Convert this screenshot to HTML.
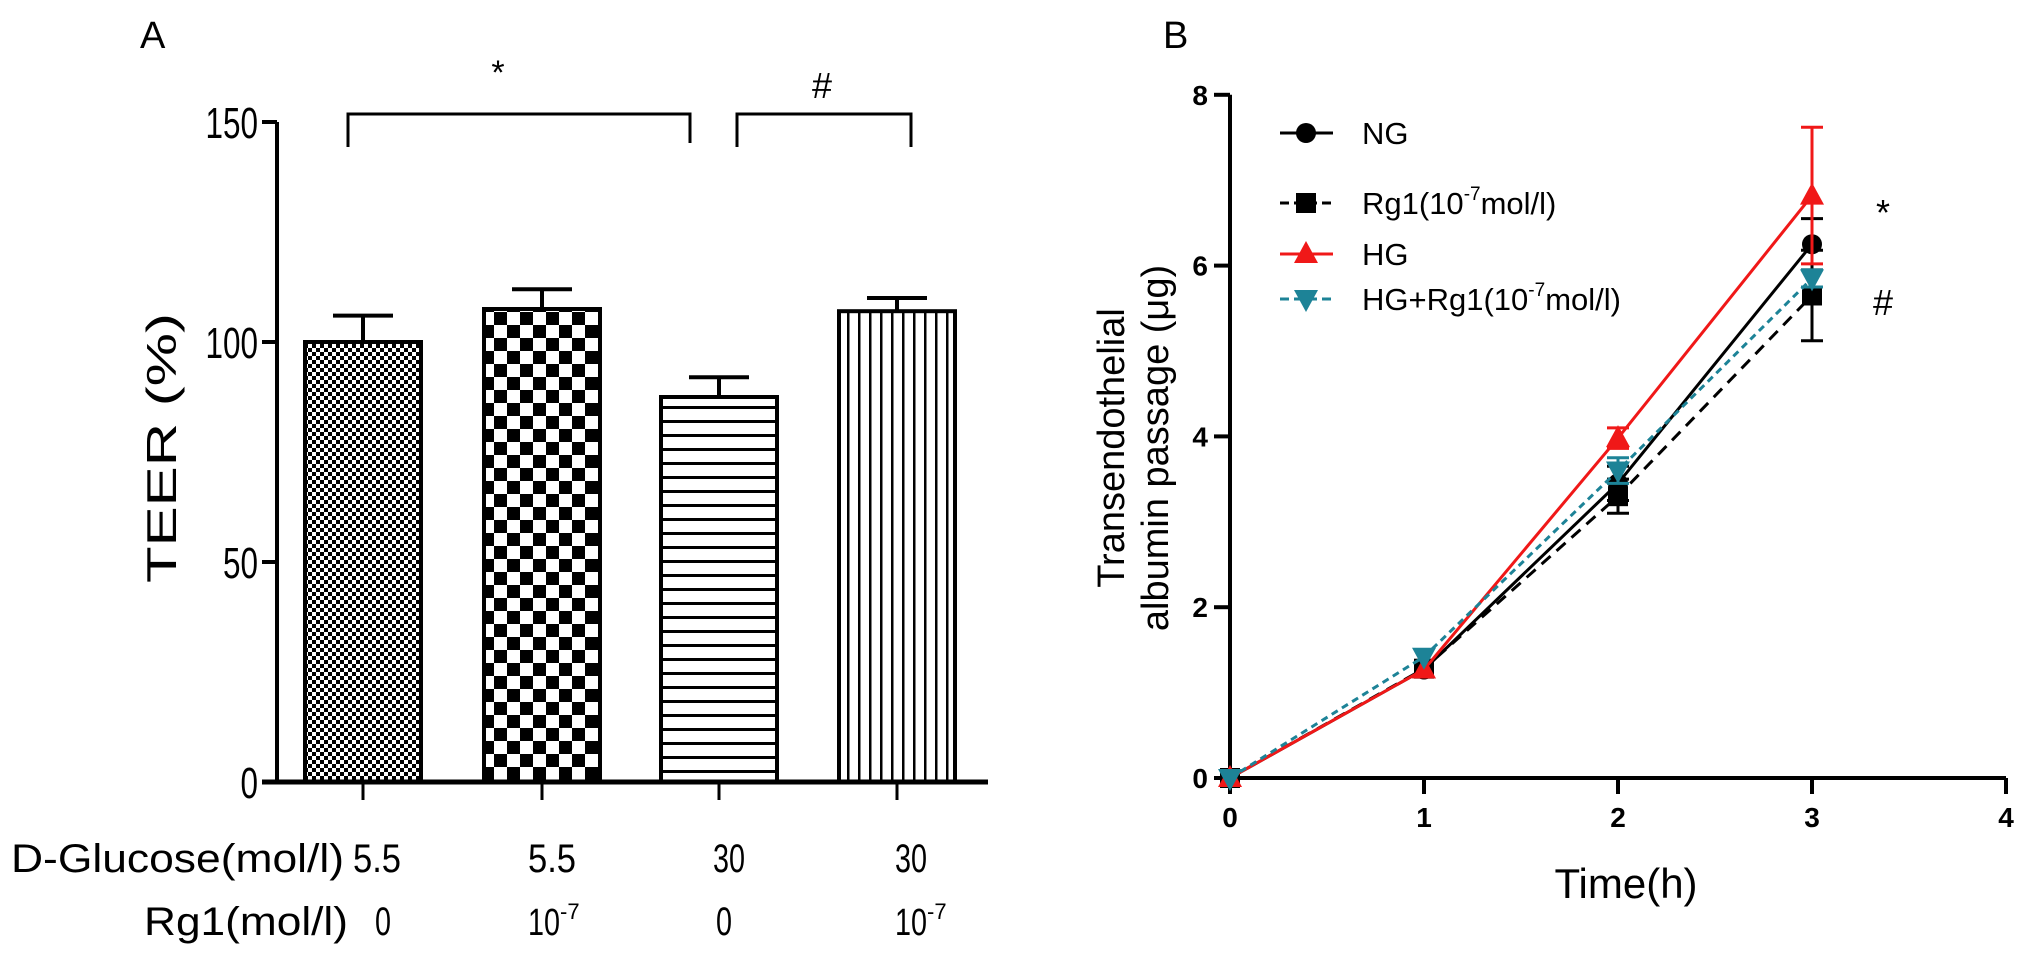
<!DOCTYPE html>
<html><head><meta charset="utf-8"><style>
html,body{margin:0;padding:0;background:#fff;}
svg{display:block;font-family:"Liberation Sans",Arial,sans-serif;}
</style></head><body>
<svg id="fig" width="2029" height="961" viewBox="0 0 2029 961" xmlns="http://www.w3.org/2000/svg">
<defs>
<pattern id="p1" width="8" height="8" patternUnits="userSpaceOnUse"><rect width="8" height="8" fill="#fff"/><rect width="4" height="4" fill="#000"/><rect x="4" y="4" width="4" height="4" fill="#000"/></pattern>
<pattern id="p2" width="26" height="26" patternUnits="userSpaceOnUse"><rect width="26" height="26" fill="#fff"/><rect width="13" height="13" fill="#000"/><rect x="13" y="13" width="13" height="13" fill="#000"/></pattern>
<pattern id="p3" width="10" height="14" patternUnits="userSpaceOnUse"><rect width="10" height="14" fill="#fff"/><rect y="0" width="10" height="3" fill="#000"/></pattern>
<pattern id="p4" width="11" height="10" patternUnits="userSpaceOnUse"><rect width="11" height="10" fill="#fff"/><rect x="0" width="2.5" height="10" fill="#000"/></pattern>
</defs>
<g id="panelA"></g>
<g id="panelB"></g>
</svg>
<script>
// Panel A data
const barGroups = ["g1","g2","g3","g4"];
const teerValues = [100, 107.5, 87.5, 107];
const teerErrTop = [106, 112, 92, 110];
const glucoseLabels = ["5.5","5.5","30","30"];
const rg1Labels = ["0","10-7","0","10-7"];
const teerTicks = [0,50,100,150];
// Panel B data
const times = [0,1,2,3];
const ngValues = [0,1.27,3.45,6.25];
const ngErr = [0,0.05,0.2,0.3];
const rg1Values = [0,1.28,3.3,5.65];
const rg1Err = [0,0.05,0.2,0.53];
const hgValues = [0,1.27,3.98,6.82];
const hgErr = [0,0.05,0.12,0.8];
const hgRg1Values = [0,1.42,3.6,5.85];
const hgRg1Err = [0,0.05,0.15,0.1];
const bTicksY = [0,2,4,6,8];
const bTicksX = [0,1,2,3,4];

const NS="http://www.w3.org/2000/svg";
function mk(parent,tag,attrs,text){const e=document.createElementNS(NS,tag);for(const k in attrs)e.setAttribute(k,attrs[k]);if(text!==undefined)e.textContent=text;parent.appendChild(e);return e;}

// ---------- Panel A ----------
const A=document.getElementById('panelA');
const ayScale=v=>782-v*4.4;
const barCenters=[363,542,719,897];
const pats=["url(#p1)","url(#p2)","url(#p3)","url(#p4)"];
let t=mk(A,'text',{x:140,y:48,'font-size':38},'A');


// y axis
let l=mk(A,'line',{x1:277,y1:ayScale(150),x2:277,y2:ayScale(0)+2,stroke:'#000','stroke-width':4});


teerTicks.forEach(v=>{
  const y=ayScale(v);
  const tk=mk(A,'line',{x1:262,y1:y,x2:277,y2:y,stroke:'#000','stroke-width':4});
  
  
  const s=String(v);
  const tl=mk(A,'text',{x:258,y:y+16,'font-size':44,'text-anchor':'end',textLength:s.length*17.5,lengthAdjust:'spacingAndGlyphs'},s);
  
  
});
let yt=mk(A,'text',{x:0,y:0,'font-size':42,'text-anchor':'middle',transform:'translate(176,448) rotate(-90)',textLength:270,lengthAdjust:'spacingAndGlyphs'},'TEER (%)');


// bars
teerValues.forEach((v,i)=>{
  const cx=barCenters[i],w=116,top=ayScale(v);
  const eb=mk(A,'path',{d:`M${cx},${top} V${ayScale(teerErrTop[i])} M${cx-30},${ayScale(teerErrTop[i])} H${cx+30}`,stroke:'#000','stroke-width':4,fill:'none'});
  
  
  const r=mk(A,'rect',{x:cx-w/2,y:top,width:w,height:ayScale(0)-top,fill:pats[i],stroke:'#000','stroke-width':4});
  
  
  const tk=mk(A,'line',{x1:cx,y1:782,x2:cx,y2:800,stroke:'#000','stroke-width':3});
  
  
});
let xa=mk(A,'line',{x1:262,y1:782,x2:988,y2:782,stroke:'#000','stroke-width':5});


// significance brackets
let br1=mk(A,'path',{d:'M348,147 V114 H690 V143',stroke:'#000','stroke-width':3,fill:'none'});


let st=mk(A,'text',{x:498,y:84,'font-size':34,'text-anchor':'middle'},'*');


let br2=mk(A,'path',{d:'M737,147 V114 H911 V147',stroke:'#000','stroke-width':3,fill:'none'});


let hs=mk(A,'text',{x:822,y:98,'font-size':36,'text-anchor':'middle'},'#');


// row labels
let gl=mk(A,'text',{x:11,y:872,'font-size':40,textLength:333,lengthAdjust:'spacingAndGlyphs'},'D-Glucose(mol/l)');


let rl=mk(A,'text',{x:144,y:935,'font-size':40,textLength:204,lengthAdjust:'spacingAndGlyphs'},'Rg1(mol/l)');


const glX=[353,528,713,895], rgX=[375,528,716,895];
glucoseLabels.forEach((s,i)=>{
  const e=mk(A,'text',{x:glX[i],y:872,'font-size':40,textLength:s.length*16,lengthAdjust:'spacingAndGlyphs'},s);
  
  
});
rg1Labels.forEach((s,i)=>{
  if(s==='10-7'){
    const e=mk(A,'text',{x:rgX[i],y:935,'font-size':38},'');
    mk(e,'tspan',{textLength:32,lengthAdjust:'spacingAndGlyphs'},'10');
    mk(e,'tspan',{'font-size':22,dy:-16},'-7');
    
    
  } else {
    const e=mk(A,'text',{x:rgX[i],y:935,'font-size':40,textLength:16,lengthAdjust:'spacingAndGlyphs'},s);
    
    
  }
});

// ---------- Panel B ----------
const B=document.getElementById('panelB');
const bx=v=>1230+v*194;
const by=v=>778-v*85.4;
let bt=mk(B,'text',{x:1163,y:48,'font-size':38},'B');


let bya=mk(B,'line',{x1:1230,y1:by(8),x2:1230,y2:by(0),stroke:'#000','stroke-width':4});


let bxa=mk(B,'line',{x1:1230,y1:by(0),x2:bx(4),y2:by(0),stroke:'#000','stroke-width':4});


bTicksY.forEach(v=>{
  const tk=mk(B,'line',{x1:1214,y1:by(v),x2:1230,y2:by(v),stroke:'#000','stroke-width':4});
  
  
  const tl=mk(B,'text',{x:1208,y:by(v)+10,'font-size':28,'font-weight':'bold','text-anchor':'end'},String(v));
  
  
});
bTicksX.forEach(v=>{
  const tk=mk(B,'line',{x1:bx(v),y1:by(0),x2:bx(v),y2:by(0)+16,stroke:'#000','stroke-width':4});
  
  
  const tl=mk(B,'text',{x:bx(v),y:827,'font-size':28,'font-weight':'bold','text-anchor':'middle'},String(v));
  
  
});
let xt=mk(B,'text',{x:1626,y:898,'font-size':42,'text-anchor':'middle'},'Time(h)');


let yt1=mk(B,'text',{x:0,y:0,'font-size':38,'text-anchor':'middle',transform:'translate(1124,448) rotate(-90)'},'Transendothelial');


let yt2=mk(B,'text',{x:0,y:0,'font-size':38,'text-anchor':'middle',transform:'translate(1168,448) rotate(-90)'},'albumin passage (μg)');



function marker(g,type,x,y,color){
  if(type==='circle') return mk(g,'circle',{cx:x,cy:y,r:10,fill:color});
  if(type==='square') return mk(g,'rect',{x:x-10,y:y-10,width:20,height:20,fill:color});
  if(type==='up') return mk(g,'path',{d:`M${x},${y-13} L${x+12},${y+9} L${x-12},${y+9} Z`,fill:color});
  return mk(g,'path',{d:`M${x},${y+13} L${x+12},${y-9} L${x-12},${y-9} Z`,fill:color});
}
const series=[
  {name:'ng',vals:ngValues,err:ngErr,color:'#000',dash:'',marker:'circle',label:'NG',ly:133},
  {name:'rg1',vals:rg1Values,err:rg1Err,color:'#000',dash:'12,8',marker:'square',label:'Rg1(10',ly:203},
  {name:'hg',vals:hgValues,err:hgErr,color:'#f01818',dash:'',marker:'up',label:'HG',ly:254},
  {name:'hg-rg1',vals:hgRg1Values,err:hgRg1Err,color:'#1d8397',dash:'7,5',marker:'down',label:'HG+Rg1(10',ly:299}
];
series.forEach(s=>{
  const g=mk(B,'g',{});
  
  
  const pts=s.vals.map((v,i)=>bx(times[i])+','+by(v)).join(' ');
  const pl=mk(g,'polyline',{points:pts,fill:'none',stroke:s.color,'stroke-width':3,'stroke-dasharray':s.dash});
  
  
  s.vals.forEach((v,i)=>{
    const x=bx(times[i]),e=s.err[i];
    if(e>0.06){
      const eb=mk(g,'path',{d:`M${x},${by(v-e)} V${by(v+e)} M${x-11},${by(v+e)} H${x+11} M${x-11},${by(v-e)} H${x+11}`,stroke:s.color,'stroke-width':3,fill:'none'});
      
      
    }
    const m=marker(g,s.marker,x,by(v),s.color);
    
    
  });
  // legend
  const lg=mk(B,'g',{});
  
  
  mk(lg,'line',{x1:1280,y1:s.ly,x2:1333,y2:s.ly,stroke:s.color,'stroke-width':3,'stroke-dasharray':s.dash?'9,5':''});
  marker(lg,s.marker,1306,s.ly,s.color);
  const tx=mk(lg,'text',{x:1362,y:s.ly+11,'font-size':31},s.label);
  if(s.label.indexOf('(10')>=0){
    mk(tx,'tspan',{'font-size':19,dy:-14},'-7');
    mk(tx,'tspan',{dy:14},'mol/l)');
  }
});
let bs=mk(B,'text',{x:1883,y:225,'font-size':36,'text-anchor':'middle'},'*');


let bh=mk(B,'text',{x:1883,y:315,'font-size':36,'text-anchor':'middle'},'#');


</script>
</body></html>
